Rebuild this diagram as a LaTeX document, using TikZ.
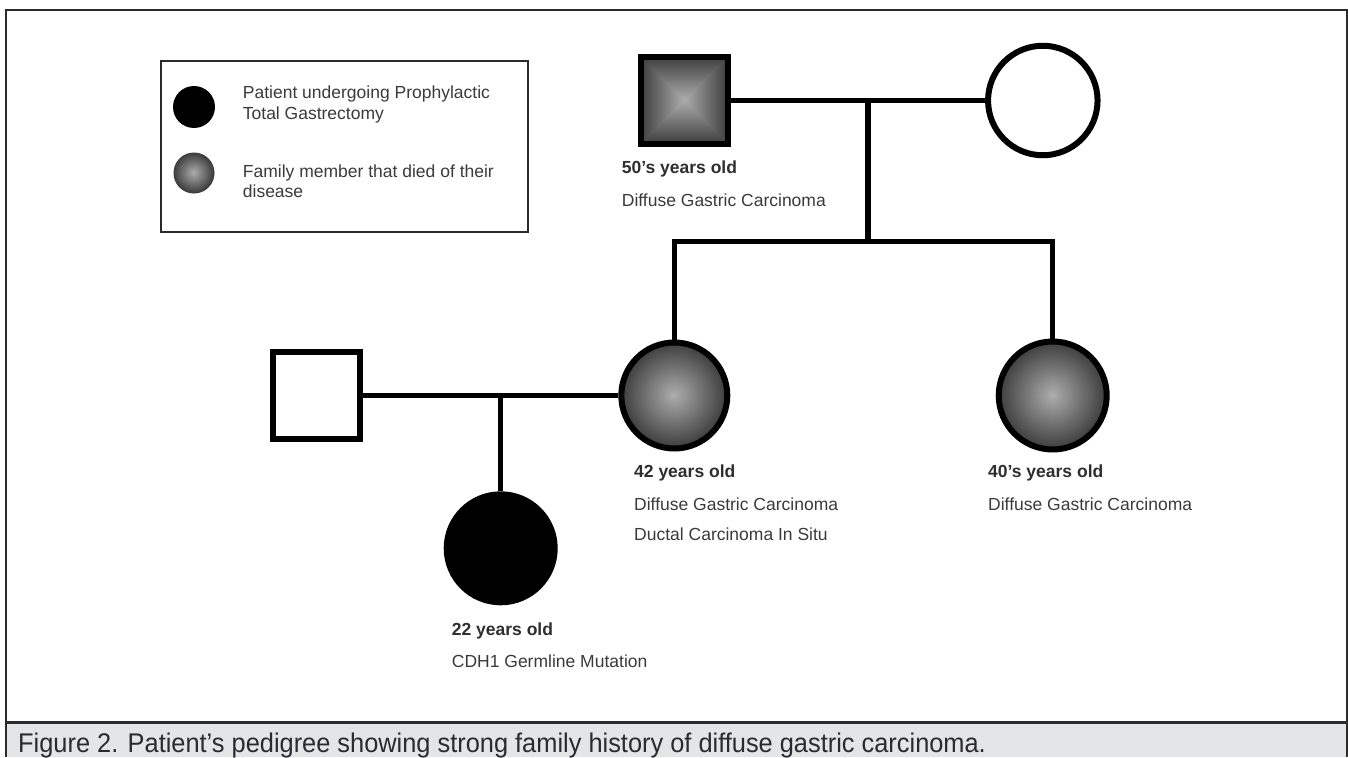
\documentclass[tikz,border=0pt]{standalone}
\usepackage{fontspec}
\setmainfont{Liberation Sans}
\newfontfamily\capfont[FakeStretch=0.94,Ligatures=TeX]{Liberation Sans}
\definecolor{framec}{HTML}{2B2B2B}
\definecolor{capbg}{HTML}{E4E5E7}
\definecolor{txt}{HTML}{3A3A3A}
\definecolor{shdark}{HTML}{3C3C3C}
\definecolor{shlight}{HTML}{ACACAC}
\newcommand\shadedisc[2]{%
  \foreach \k in {0,...,44}{%
    \pgfmathsetmacro\rr{#2*(1-\k/45)}%
    \pgfmathsetmacro\pp{100*\k/44}%
    \fill[shlight!\pp!shdark] (#1) circle (\rr pt);}}
\newcommand\shadesquare[2]{%
  \foreach \k in {0,...,44}{%
    \pgfmathsetmacro\rr{#2*(1-\k/45)}%
    \pgfmathsetmacro\pp{100*\k/44}%
    \fill[shlight!\pp!shdark] ($(#1)+(-\rr,-\rr)$) rectangle ($(#1)+(\rr,\rr)$);}}
\usetikzlibrary{calc}
\begin{document}
\begin{tikzpicture}[x=1pt,y=-1pt,
  circ/.style={circle, draw=black, line width=6pt, inner sep=0pt, minimum size=#1},
  sq/.style={rectangle, draw=black, line width=6pt, inner sep=0pt, minimum size=#1},
  pedline/.style={line width=5.5pt, black},
  lbl/.style={anchor=base west, inner sep=0pt, text=txt, font=\fontsize{17.5}{21}\selectfont},
  blbl/.style={anchor=base west, inner sep=0pt, text=txt!80!black, font=\fontsize{17.5}{21}\selectfont\bfseries}]
\useasboundingbox (0,0) rectangle (1348,757);
% frame and caption band
\fill[capbg] (6,722) rectangle (1347,757);
\draw[framec, line width=2pt] (6,757) -- (6,10) -- (1347,10) -- (1347,757);
\draw[framec, line width=3pt] (6,722.3) -- (1347,722.3);
\node[anchor=base west, inner sep=0pt, text=framec, font=\capfont\fontsize{27}{30}\selectfont] (cap) at (18,752)
  {Figure 2. Patient’s pedigree showing strong family history of diffuse gastric carcinoma.};
% legend
\node[rectangle, draw=framec, line width=2pt, minimum width=366.5pt, minimum height=170.5pt, inner sep=0pt] (leg) at (344.25,146.25) {};
\node[circle, fill=black, minimum size=42pt, inner sep=0pt] (lb) at (194,107) {};
\coordinate (Plg) at (194,173);
\shadedisc{Plg}{20.5}
\node[circle, minimum size=41pt, inner sep=0pt] (lg) at (Plg) {};
\node[lbl] (lt1) at (242.7,99) {Patient undergoing Prophylactic};
\node[lbl] (lt2) at (242.7,120) {Total Gastrectomy};
\node[lbl] (lt3) at (242.7,177.7) {Family member that died of their};
\node[lbl] (lt4) at (242.7,197.7) {disease};
% positions
\coordinate (Pgf) at (684.5,100.5);
\coordinate (Pgm) at (1042.8,100.5);
\coordinate (Pmo) at (674.3,395.5);
\coordinate (Pau) at (1052.7,395.5);
\coordinate (Pfa) at (316.6,395.5);
\coordinate (Ppt) at (500.7,548.3);
% shading
\shadesquare{Pgf}{44}
\shadedisc{Pmo}{54}
\shadedisc{Pau}{55}
% nodes
\node[sq=87pt] (gf) at (Pgf) {};
\node[circ=109.5pt] (gm) at (Pgm) {};
\node[circ=106pt] (mo) at (Pmo) {};
\node[circ=108pt] (au) at (Pau) {};
\node[sq=86.5pt] (fa) at (Pfa) {};
\node[circ=108pt, fill=black] (pt) at (Ppt) {};
% connectors
\draw[pedline] (gf.east) -- (gm.west);
\coordinate (c1) at (868,100.5);
\coordinate (s1) at (868,241.7);
\draw[pedline] (c1) -- (s1);
\draw[pedline, line join=miter] (mo.north) -- (mo.north |- s1) -- (au.north |- s1) -- (au.north);
\draw[pedline] (fa.east) -- (mo.west);
\coordinate (c2) at (pt.north |- fa.east);
\draw[pedline] (c2) -- (pt.north);
% labels
\node[blbl] (l50) at (621.7,173.3) {50’s years old};
\node[lbl] (l50d) at (621.7,206.7) {Diffuse Gastric Carcinoma};
\node[blbl] (l42) at (634,477.7) {42 years old};
\node[lbl] (l42d) at (634,510) {Diffuse Gastric Carcinoma};
\node[lbl] (l42e) at (634,540.7) {Ductal Carcinoma In Situ};
\node[blbl] (l40) at (988,477.7) {40’s years old};
\node[lbl] (l40d) at (988,510) {Diffuse Gastric Carcinoma};
\node[blbl] (l22) at (451.7,635) {22 years old};
\node[lbl] (l22d) at (451.7,667.7) {CDH1 Germline Mutation};
\end{tikzpicture}
\end{document}
